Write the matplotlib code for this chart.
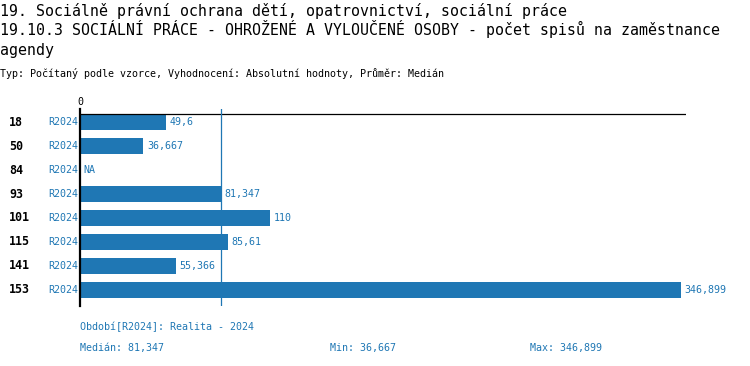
import matplotlib
matplotlib.use('Agg')
import matplotlib.pyplot as plt
import matplotlib.transforms as mtransforms

# data
codes = ['18', '50', '84', '93', '101', '115', '141', '153']
periods = ['R2024'] * 8
values = [49.6, 36.667, None, 81.347, 110, 85.61, 55.366, 346.899]
value_labels = ['49,6', '36,667', 'NA', '81,347', '110', '85,61', '55,366', '346,899']
median = 81.347
stats = [('Medián: 81,347', 80), ('Min: 36,667', 330), ('Max: 346,899', 530)]

title1 = '19. Sociálně právní ochrana dětí, opatrovnictví, sociální práce'
title2 = '19.10.3 SOCIÁLNÍ PRÁCE - OHROŽENÉ A VYLOUČENÉ OSOBY - počet spisů na zaměstnance'
title3 = 'agendy'
subtitle = 'Typ: Počítaný podle vzorce, Vyhodnocení: Absolutní hodnoty, Průměr: Medián'
period_note = 'Období[R2024]: Realita - 2024'

W, H = 750, 366
BLUE = '#1f77b4'
plt.rcParams['font.family'] = ['DejaVu Sans Mono', 'DejaVu Sans']

fig = plt.figure(figsize=(W / 100, H / 100), dpi=100)


def fx(x):
    return x / W


def fy(y):
    return 1 - y / H


# titles
fig.text(0, fy(16), title1, fontsize=10.7, va='baseline', ha='left')
fig.text(0, fy(35), title2, fontsize=10.7, va='baseline', ha='left')
fig.text(0, fy(55), title3, fontsize=10.7, va='baseline', ha='left')
fig.text(0, fy(77), subtitle, fontsize=7.2, va='baseline', ha='left')

# plot area
ax = fig.add_axes([fx(80), fy(306), fx(686) - fx(80), (306 - 109) / H])
ax.set_xlim(0, 350)
ax.set_ylim(7.667, -0.542)
for s in ['top', 'right', 'bottom']:
    ax.spines[s].set_visible(False)
ax.spines['left'].set_color('black')
ax.spines['left'].set_linewidth(1.6)
ax.set_xticks([])
ax.set_yticks([])

ax.axhline(-0.354, color='black', lw=0.9)
ax.axvline(median, color=BLUE, lw=0.9)

for i, (v, lab) in enumerate(zip(values, value_labels)):
    if v is not None:
        ax.barh(i, v, height=0.667, color=BLUE)
        x = v
    else:
        x = 0
    ax.annotate(lab, (x, i), xytext=(2.5, 0), textcoords='offset points',
                va='center', ha='left', color=BLUE, fontsize=7.2)

tr = mtransforms.blended_transform_factory(fig.transFigure, ax.transData)
for i, (c, p) in enumerate(zip(codes, periods)):
    ax.text(fx(9), i, c, transform=tr, fontsize=8.4, fontweight='bold',
            va='center', ha='left', color='black')
    ax.text(fx(78), i, p, transform=tr, fontsize=7.2,
            va='center', ha='right', color=BLUE)

fig.text(fx(80), fy(102), '0', fontsize=7.2, ha='center', va='center')

# footer
fig.text(fx(80), fy(327), period_note, fontsize=7.2, color=BLUE, va='center', ha='left')
for txt, x in stats:
    fig.text(fx(x), fy(348), txt, fontsize=7.2, color=BLUE, va='center', ha='left')

fig.savefig('out.png', dpi=100)
